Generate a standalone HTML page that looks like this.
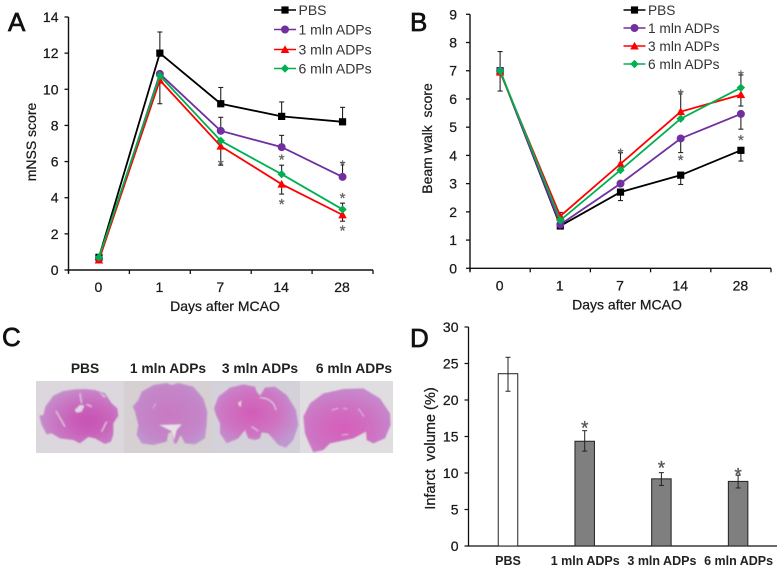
<!DOCTYPE html>
<html>
<head>
<meta charset="utf-8">
<style>
html,body{margin:0;padding:0;background:#fff;width:780px;height:568px;overflow:hidden}
svg{display:block;filter:blur(.35px)}
text{font-family:"Liberation Sans",sans-serif;fill:#1a1a1a}
.tick{font-size:14px;stroke:#1a1a1a;stroke-width:.25}
.ttl{font-size:14px;stroke:#1a1a1a;stroke-width:.25}
.ttlD{font-size:14.6px;stroke:#1a1a1a;stroke-width:.25}
.leg{font-size:14px;fill:#333}
.legB{font-size:13.7px;fill:#333}
.pl{font-size:26px;fill:#111;stroke:#111;stroke-width:.7}
.cap{font-size:12.5px;font-weight:bold;fill:#222}
.capC{font-size:13.8px;font-weight:bold;fill:#222}
</style>
</head>
<body>
<svg id="figure" xmlns="http://www.w3.org/2000/svg" width="780" height="568" viewBox="0 0 780 568">
  <defs>
    <filter id="soft" x="-5%" y="-5%" width="110%" height="110%"><feGaussianBlur stdDeviation="0.9"/></filter>
    <radialGradient id="bA" cx="62%" cy="58%" r="60%"><stop offset="0" stop-color="#c653b4"/><stop offset=".35" stop-color="#c95fb9"/><stop offset=".75" stop-color="#c978c4"/><stop offset="1" stop-color="#c48ccb"/></radialGradient>
    <radialGradient id="bB" cx="50%" cy="50%" r="60%"><stop offset="0" stop-color="#c878c2"/><stop offset=".7" stop-color="#c486c8"/><stop offset="1" stop-color="#bf97d2"/></radialGradient>
    <radialGradient id="bC" cx="45%" cy="45%" r="60%"><stop offset="0" stop-color="#d25cb6"/><stop offset=".55" stop-color="#ce74c2"/><stop offset="1" stop-color="#bf98d2"/></radialGradient>
    <radialGradient id="bD" cx="45%" cy="62%" r="60%"><stop offset="0" stop-color="#d65eba"/><stop offset=".6" stop-color="#ce72c2"/><stop offset="1" stop-color="#c688cc"/></radialGradient>
  </defs>

  <g id="panelA"></g>
  <g id="panelB"></g>
  <g id="panelD"></g>

  <text class="pl" x="8" y="31">A</text>
  <text class="pl" x="410" y="31">B</text>
  <text class="pl" x="2" y="346">C</text>
  <text class="pl" x="410" y="347">D</text>

  <g>
    <text class="capC" x="85" y="373" text-anchor="middle">PBS</text>
    <text class="capC" x="168" y="373" text-anchor="middle">1 mln ADPs</text>
    <text class="capC" x="260" y="373" text-anchor="middle">3 mln ADPs</text>
    <text class="capC" x="354" y="373" text-anchor="middle">6 mln ADPs</text>
    <rect x="36" y="381" width="89" height="72" fill="#dcd7dc"/>
    <rect x="124" y="381" width="89" height="72" fill="#d6d0d2"/>
    <rect x="212" y="381" width="89" height="72" fill="#d5d1da"/>
    <rect x="300" y="381" width="93" height="72" fill="#e0dde0"/>
    <g filter="url(#soft)">
      <g transform="translate(30,375) scale(.3333)">
        <path fill="url(#bA)" d="M28,122 L40,120 L46,95 L70,62 L100,48 L135,43 L165,42 L195,45 L225,55 L245,85 L262,100 L265,122 L250,145 L250,178 L243,200 L225,207 L195,190 L175,186 L150,205 L130,195 L90,190 L65,175 L50,178 L35,150 Z"/>
        <path fill="none" stroke="#ded2e2" stroke-width="3.5" d="M78,108 L105,155 M230,140 L215,170 M150,55 L155,85 M170,88 L185,95"/>
        <path fill="#e0d6e4" d="M134,105 L150,90 L163,92 L155,110 L140,113 Z"/>
        <path fill="#ded2e2" d="M205,50 L228,65 L222,67 Z"/>
        <path fill="url(#bB)" d="M308,95 L325,75 L335,50 L370,30 L410,24 L425,30 L445,24 L490,35 L520,70 L532,110 L530,150 L525,190 L495,208 L465,205 L452,180 L440,205 L432,205 L425,170 L415,175 L410,200 L370,210 L335,205 L320,180 L325,150 L315,110 Z"/>
        <path fill="#e8e0e6" d="M388,150 L455,148 L440,165 L432,195 L425,168 L412,162 Z"/>
        <path fill="none" stroke="#d2b2d8" stroke-width="3" d="M368,100 L378,85"/>
      </g>
      <g transform="translate(210,375) scale(.3333)">
        <path fill="url(#bC)" d="M12,100 L25,65 L60,38 L100,28 L135,35 L140,50 L150,62 L165,38 L195,35 L230,60 L258,105 L265,150 L250,195 L228,218 L205,210 L175,175 L155,172 L150,190 L135,195 L115,190 L105,165 L85,190 L50,205 L30,175 L30,145 L18,120 Z"/>
        <path fill="none" stroke="#e2d4e4" stroke-width="3" d="M150,68 Q190,70 198,105 M125,155 L145,168"/>
        <path fill="#e4d8e6" d="M84,85 L94,76 L92,97 Z"/>
        <path fill="url(#bD)" d="M280,125 L300,85 L340,55 L400,42 L460,40 L510,70 L540,115 L542,150 L525,190 L490,205 L470,195 L468,170 L430,190 L360,205 L340,225 L310,232 L295,200 L285,175 Z"/>
        <path fill="none" stroke="#dcc6e0" stroke-width="2.5" d="M445,100 L462,125 M365,105 L385,100 M400,100 L412,102 M395,180 L415,178"/>
      </g>
    </g>
  </g>
</svg>

<script>
// ---- Panel A data ----
const categoriesLine = ['0', '1', '7', '14', '28'];
const seriesNames = ['PBS', '1 mln ADPs', '3 mln ADPs', '6 mln ADPs'];
const ticksA = [0, 2, 4, 6, 8, 10, 12, 14];
const pbsA = [0.7, 12.0, 9.2, 8.5, 8.2];
const oneMlnA = [0.6, 10.85, 7.7, 6.8, 5.15];
const threeMlnA = [0.55, 10.5, 6.85, 4.75, 3.05];
const sixMlnA = [0.7, 10.75, 7.15, 5.3, 3.35];
// error whisker end values: [category index, whisker end value]
const pbsErrA = [[1, 13.17], [2, 10.1], [3, 9.3], [4, 9.0]];
const oneMlnErrA = [[1, 9.2], [2, 8.45], [3, 7.45], [4, 5.95]];
const threeMlnErrA = [[2, 5.8], [3, 4.2], [4, 2.7]];
const sixMlnErrA = [[3, 5.8], [4, 3.7]];
const starsA = [[2, 5.9], [3, 6.2], [3, 3.72], [4, 5.85], [4, 4.05], [4, 2.25]];

// ---- Panel B data ----
const ticksB = [0, 1, 2, 3, 4, 5, 6, 7, 8, 9];
const pbsB = [7.0, 1.5, 2.7, 3.3, 4.18];
const oneMlnB = [7.0, 1.55, 3.0, 4.6, 5.47];
const threeMlnB = [6.95, 1.85, 3.7, 5.55, 6.15];
const sixMlnB = [7.0, 1.7, 3.48, 5.3, 6.4];
const pbsErrB = [[0, 7.68], [0, 6.28], [2, 2.4], [3, 2.97], [4, 3.8]];
const oneMlnErrB = [[3, 4.1], [4, 4.93]];
const threeMlnErrB = [[1, 1.98], [2, 4.1], [3, 6.25], [4, 5.75]];
const sixMlnErrB = [[4, 6.85]];
const starsB = [[2, 4.12], [3, 6.2], [3, 3.88], [4, 6.88], [4, 4.6]];

// ---- Panel D data ----
const categoriesBar = ['PBS', '1 mln ADPs', '3 mln ADPs', '6 mln ADPs'];
const ticksD = [0, 5, 10, 15, 20, 25, 30];
const infarctValues = [23.6, 14.35, 9.2, 8.85];
const infarctErrHigh = [25.85, 15.8, 10.05, 9.7];
const infarctErrLow = [21.2, 13.0, 8.3, 7.95];
const infarctStars = [false, 16.5, 11.0, 10.1];

const NS = 'http://www.w3.org/2000/svg';
const colors = ['#000000', '#7030a0', '#ff0000', '#00b050'];
const markerKinds = ['square', 'circle', 'triangle', 'diamond'];
const markerSlugs = ['pbs', '1mln', '3mln', '6mln'];

function make(tag, parent, props) {
  const el = document.createElementNS(NS, tag);
  for (const k in props) el.setAttribute(k, props[k]);
  parent.appendChild(el);
  return el;
}
function seg(parent, x1, y1, x2, y2, color, w) {
  return make('line', parent, {x1: x1, y1: y1, x2: x2, y2: y2, stroke: color, 'stroke-width': w});
}
function label(parent, x, y, str, cls, anchor) {
  const t = make('text', parent, {x: x, y: y, class: cls, 'text-anchor': anchor || 'middle'});
  t.textContent = str;
  return t;
}
function marker(parent, kind, x, y, color, s) {
  if (kind === 'square') return make('rect', parent, {x: x - s, y: y - s, width: 2 * s, height: 2 * s, fill: color});
  if (kind === 'circle') return make('circle', parent, {cx: x, cy: y, r: s, fill: color});
  if (kind === 'triangle') return make('polygon', parent, {points: [x - s, y + s * 0.8, x + s, y + s * 0.8, x, y - s].join(','), fill: color});
  return make('polygon', parent, {points: [x - s, y, x, y - s, x + s, y, x, y + s].join(','), fill: color});
}
function star(parent, x, y, size, color) {
  const t = make('text', parent, {x: x, y: y + size * 0.42, 'text-anchor': 'middle', style: 'font-size:' + size + 'px;fill:' + color + ';stroke:' + color + ';stroke-width:.3'});
  t.textContent = '*';
  return t;
}
const markerSize = [3.6, 4, 4.3, 4.2];

function lineChart(cfg) {
  const root = document.getElementById(cfg.id);
  const yS = v => cfg.y0 - (v - 0) * (cfg.y0 - cfg.yTop) / cfg.yMax;
  const band = (cfg.xEnd - cfg.x0) / categoriesLine.length;
  const xS = i => cfg.x0 + band * (i + 0.5);

  const axes = make('g', root, {});
  
  
  const yAxis = seg(axes, cfg.x0, cfg.yTop, cfg.x0, cfg.y0 + 3, '#111', 1.4);
  
  
  const xAxis = seg(axes, cfg.x0 - 1, cfg.y0, cfg.xEnd, cfg.y0, '#111', 1.4);
  
  
  cfg.ticks.forEach(function (v) {
    seg(axes, cfg.x0 - 4, yS(v), cfg.x0, yS(v), '#111', 1.3);
    const t = label(axes, cfg.x0 - cfg.tickGap, yS(v) + 5, String(v), 'tick', 'end');
    
    
  });
  for (let i = 0; i <= categoriesLine.length; i++) {
    seg(axes, cfg.x0 + band * i, cfg.y0, cfg.x0 + band * i, cfg.y0 + 4, '#111', 1.3);
  }
  categoriesLine.forEach(function (c, i) {
    const t = label(axes, xS(i) - 0.5, cfg.y0 + 22, c, 'tick');
    
    
  });
  const xt = label(axes, cfg.xTitleX, cfg.y0 + 41, 'Days after MCAO', 'ttl');
  
  
  const yt = label(axes, 0, 0, cfg.yTitle, 'ttl');
  yt.setAttribute('transform', 'translate(' + cfg.yTitleX + ',' + cfg.yTitleY + ') rotate(-90)');
  
  

  const plot = make('g', root, {});
  
  

  // error bars
  cfg.errs.forEach(function (list, s) {
    list.forEach(function (e) {
      const base = cfg.series[s][e[0]];
      const x = xS(e[0]);
      const w = seg(plot, x, yS(base), x, yS(e[1]), '#222', 1.1);
      
      
      seg(plot, x - 2.5, yS(e[1]), x + 2.5, yS(e[1]), '#222', 1.1);
    });
  });

  // series
  cfg.order.forEach(function (s) {
    const g = make('g', plot, {});
    
    
    const pts = cfg.series[s].map(function (v, i) { return xS(i) + ',' + yS(v); }).join(' ');
    make('polyline', g, {points: pts, fill: 'none', stroke: colors[s], 'stroke-width': 1.8});
    cfg.series[s].forEach(function (v, i) {
      const m = marker(g, markerKinds[s], xS(i), yS(v), colors[s], markerSize[s]);
      
      
    });
  });

  // significance stars
  cfg.stars.forEach(function (st) {
    const t = star(plot, xS(st[0]), yS(st[1]), 15, '#666');
    
    
  });

  // legend
  const lg = make('g', root, {});
  
  
  seriesNames.forEach(function (n, s) {
    const e = make('g', lg, {});
    
    
    const y = cfg.legendYs[s];
    seg(e, cfg.legendX, y, cfg.legendX + 22, y, colors[s], 1.6);
    marker(e, markerKinds[s], cfg.legendX + 11, y, colors[s], markerSize[s]);
    label(e, cfg.legendX + 24.5, y + 5, n, cfg.legendClass, 'start');
  });
}

lineChart({
  id: 'panelA', x0: 68.5, xEnd: 373, y0: 270, yTop: 17, yMax: 14, ticks: ticksA, tickGap: 10,
  series: [pbsA, oneMlnA, threeMlnA, sixMlnA],
  errs: [pbsErrA, oneMlnErrA, threeMlnErrA, sixMlnErrA],
  order: [0, 1, 2, 3], stars: starsA,
  yTitle: 'mNSS score', yTitleX: 36, yTitleY: 142, xTitleX: 225,
  legendX: 274, legendYs: [10, 29.5, 49.5, 68.5], legendClass: 'leg'
});
lineChart({
  id: 'panelB', x0: 470, xEnd: 771, y0: 268.3, yTop: 14.3, yMax: 9, ticks: ticksB, tickGap: 13,
  series: [pbsB, oneMlnB, threeMlnB, sixMlnB],
  errs: [pbsErrB, oneMlnErrB, threeMlnErrB, sixMlnErrB],
  order: [0, 1, 2, 3], stars: starsB,
  yTitle: 'Beam walk\u00a0 score', yTitleX: 432, yTitleY: 138.5, xTitleX: 627,
  legendX: 623.5, legendYs: [10, 28, 46, 64], legendClass: 'legB'
});

(function barChart() {
  const root = document.getElementById('panelD');
  const x0 = 468.5, xEnd = 777, y0 = 546, yTop = 327, yMax = 30, bw = 19.5;
  const yS = v => y0 - v * (y0 - yTop) / yMax;
  const xFirst = 508, xStep = 76.7;
  const xS = i => xFirst + xStep * i;
  const ax = make('g', root, {});
  
  
  const ya = seg(ax, x0, yTop, x0, y0, '#111', 1.3);
  
  
  const xa = seg(ax, x0 - 1, y0, xEnd, y0, '#111', 1.3);
  
  
  ticksD.forEach(function (v) {
    seg(ax, x0 - 4, yS(v), x0, yS(v), '#111', 1.2);
    const t = label(ax, x0 - 10, yS(v) + 5, String(v), 'tick', 'end');
    
    
  });
  const yt = label(ax, 0, 0, 'Infarct\u00a0 volume (%)', 'ttlD');
  yt.setAttribute('transform', 'translate(435,448.5) rotate(-90)');
  
  
  categoriesBar.forEach(function (c, i) {
    const t = label(ax, xS(i) + (i === 0 ? 0 : 0.5), 565, c, 'cap');
    
    
  });
  infarctValues.forEach(function (v, i) {
    const b = make('rect', root, {x: xS(i) - bw / 2, y: yS(v), width: bw, height: y0 - yS(v), fill: i === 0 ? '#ffffff' : '#7f7f7f', stroke: '#222', 'stroke-width': 1});
    
    
    const er = seg(root, xS(i), yS(infarctErrHigh[i]), xS(i), yS(infarctErrLow[i]), '#222', 1);
    
    
    seg(root, xS(i) - 2.5, yS(infarctErrHigh[i]), xS(i) + 2.5, yS(infarctErrHigh[i]), '#222', 1);
    seg(root, xS(i) - 2.5, yS(infarctErrLow[i]), xS(i) + 2.5, yS(infarctErrLow[i]), '#222', 1);
    if (infarctStars[i] !== false) {
      const s = star(root, xS(i), yS(infarctStars[i]) + 1, 19, '#555');
      
      
    }
  });
})();
</script>
</body>
</html>
